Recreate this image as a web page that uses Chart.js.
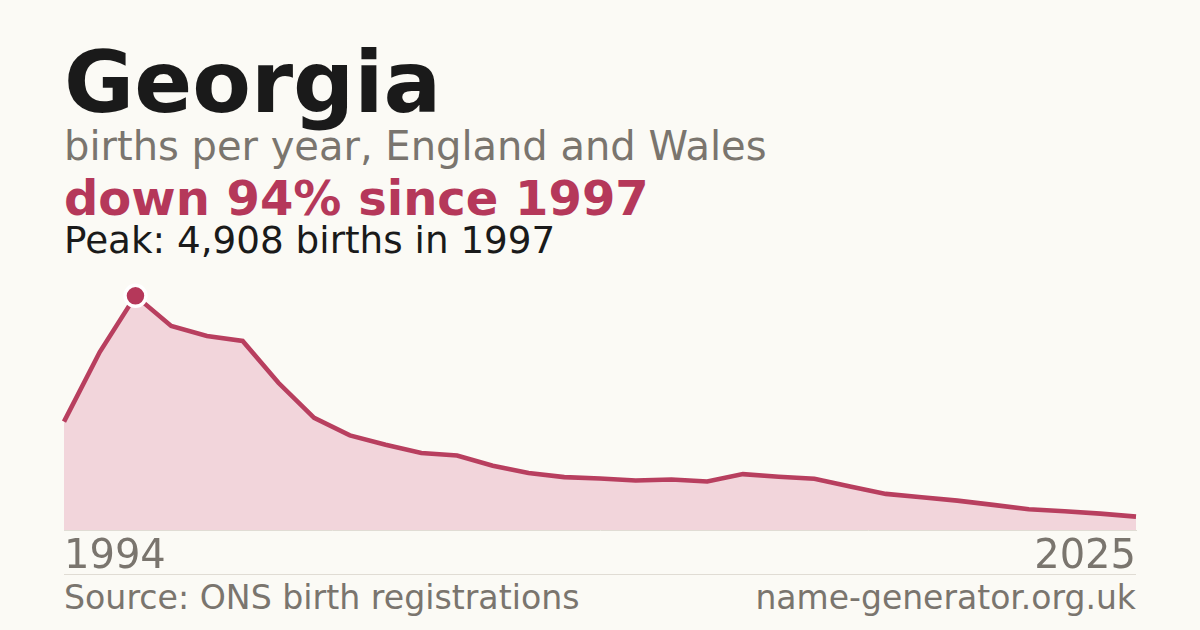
<!DOCTYPE html>
<html>
<head>
<meta charset="utf-8">
<script src="https://cdn.jsdelivr.net/npm/chart.js@4.4.1/dist/chart.umd.min.js"></script>
<style>
  html, body { margin: 0; padding: 0; }
  body { width: 1200px; height: 630px; background: #fbfaf5; position: relative; overflow: hidden;
         font-family: "DejaVu Sans", sans-serif; }
  .t { position: absolute; left: 64px; white-space: nowrap; line-height: 1; }
  #title { top: 40px; font-size: 85.5px; font-weight: bold; color: #1a1a1a; }
  #sub { top: 126px; font-size: 40px; color: #7a756e; }
  #change { top: 174px; font-size: 48px; font-weight: bold; color: #b5385a; }
  #peak { top: 222px; font-size: 37.3px; color: #1a1a1a; }
  #sep { position: absolute; left: 64px; width: 1072px; top: 574px; height: 1px; background: #e0dcd4; }
  #src { top: 581px; font-size: 33.2px; color: #7a756e; }
  #site { top: 581px; left: auto; right: 64px; font-size: 33px; color: #7a756e; position: absolute; }
  #wrap { position: absolute; left: 60px; top: 270px; width: 1080px; height: 316px; }
</style>
</head>
<body>
<div class="t" id="title">Georgia</div>
<div class="t" id="sub">births per year, England and Wales</div>
<div class="t" id="change"></div>
<div class="t" id="peak"></div>
<div id="sep"></div>
<div class="t" id="src">Source: ONS birth registrations</div>
<div class="t" id="site">name-generator.org.uk</div>
<div id="wrap"><canvas id="c"></canvas></div>
<script>
// Data
const years = [1995,1996,1997,1998,1999,2000,2001,2002,2003,2004,2005,2006,2007,2008,2009,2010,
               2011,2012,2013,2014,2015,2016,2017,2018,2019,2020,2021,2022,2023,2024,2025];
const births = [2272,3730,4908,4277,4067,3962,3086,2350,1984,1788,1614,1563,1347,1193,1109,1079,
                1037,1058,1016,1172,1115,1073,911,757,688,616,526,436,393,343,280];
const axisLabels = ["1994", "2025"];

const peakIdx = births.indexOf(Math.max(...births));
const peakVal = births[peakIdx];
const lastVal = births[births.length - 1];
const pct = Math.round((1 - lastVal / peakVal) * 100);
document.getElementById('change').textContent = 'down ' + pct + '% since ' + years[peakIdx];
document.getElementById('peak').textContent = 'Peak: ' + peakVal.toLocaleString('en-GB') + ' births in ' + years[peakIdx];

const lineColor = '#b83f5f';
new Chart(document.getElementById('c'), {
  type: 'line',
  data: {
    labels: years.map(String),
    datasets: [{
      data: births,
      borderColor: lineColor,
      borderWidth: 4.6,
      backgroundColor: '#f2d5db',
      fill: 'origin',
      tension: 0,
      pointRadius: births.map((v, i) => i === peakIdx ? 10.5 : 0),
      pointHoverRadius: 0,
      pointBackgroundColor: '#b5385a',
      pointBorderColor: '#ffffff',
      pointBorderWidth: 3.5,
      clip: false
    }]
  },
  options: {
    responsive: true,
    maintainAspectRatio: false,
    animation: false,
    events: [],
    layout: { padding: 0 },
    plugins: { legend: { display: false }, tooltip: { enabled: false } },
    scales: {
      y: { display: false, min: 0, max: 5450 },
      x: {
        offset: false,
        grid: { display: false, drawTicks: false },
        border: { display: true, color: '#e0dcd4', width: 1, z: 1 },
        ticks: {
          autoSkip: false,
          maxRotation: 0,
          align: 'inner',
          padding: 4,
          color: '#7a756e',
          font: { family: 'DejaVu Sans', size: 40 },
          callback: (v, i) => i === 0 ? axisLabels[0] : (i === years.length - 1 ? axisLabels[1] : '')
        }
      }
    }
  }
});
</script>
</body>
</html>
